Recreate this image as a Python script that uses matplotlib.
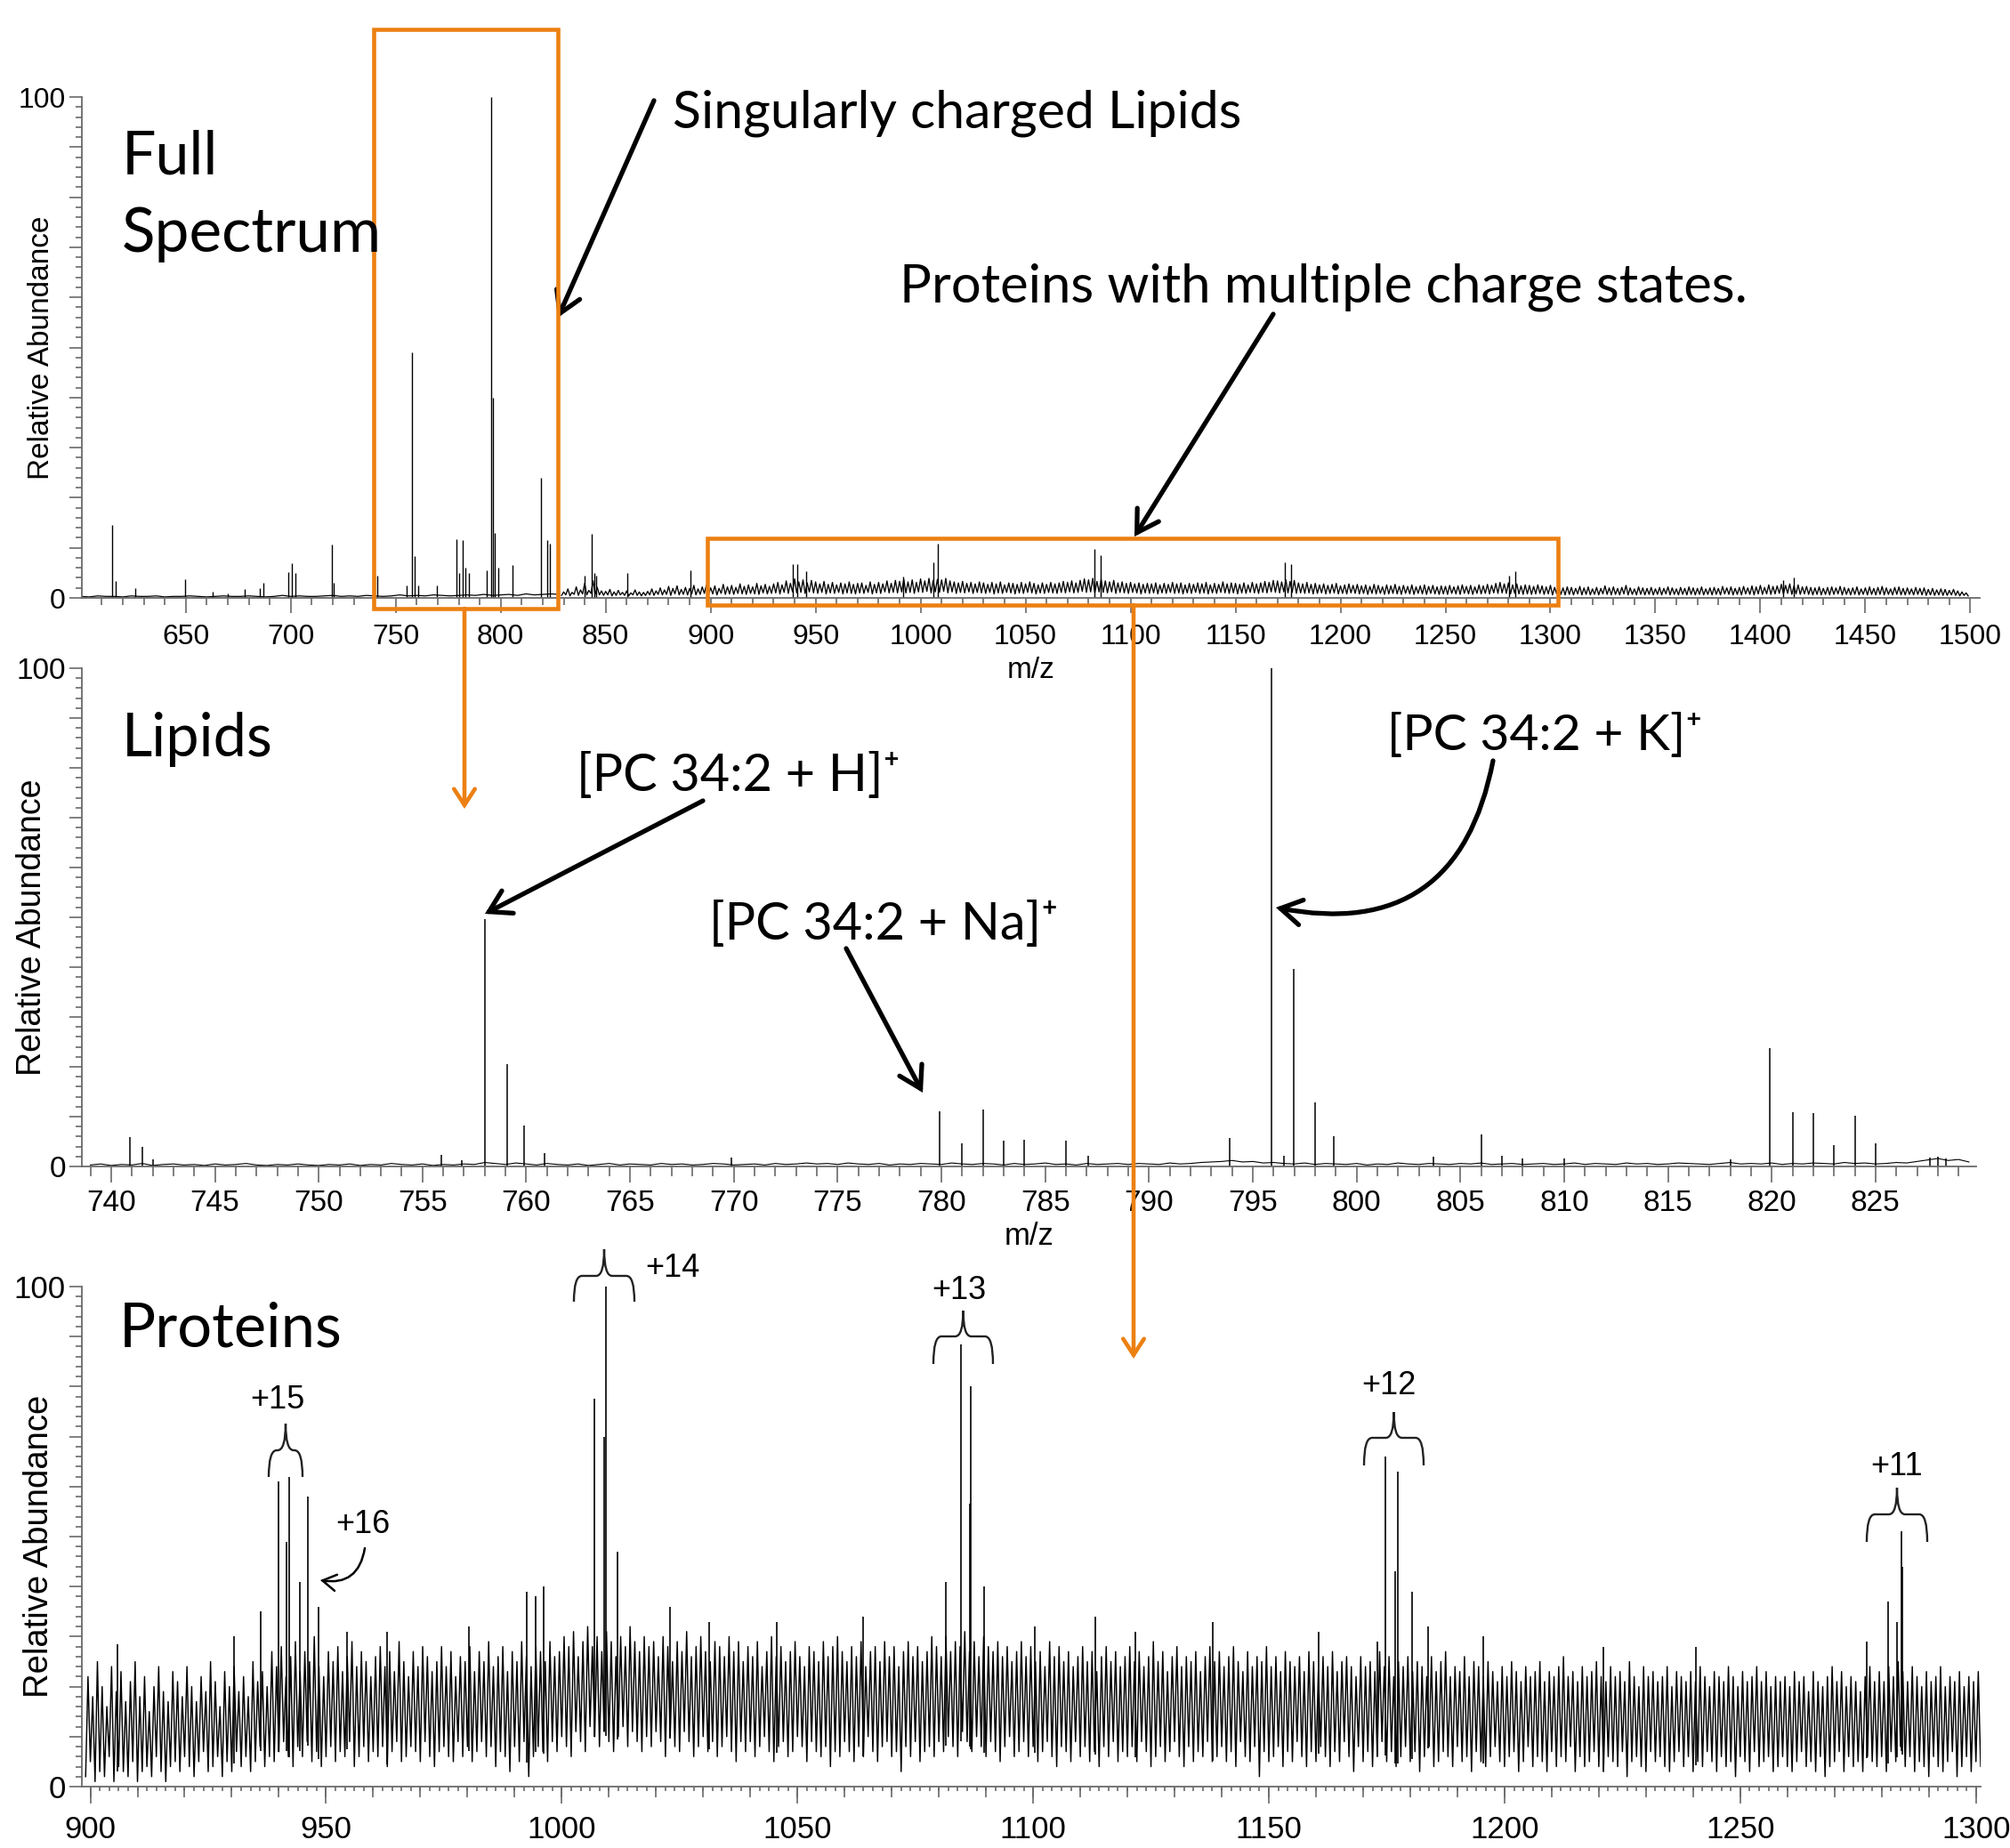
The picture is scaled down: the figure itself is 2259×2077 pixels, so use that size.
import numpy as np
import matplotlib.pyplot as plt
from matplotlib.patches import Rectangle, FancyArrowPatch, PathPatch
from matplotlib.path import Path
from matplotlib.ticker import MultipleLocator, FuncFormatter

# ---------------- data ----------------
# Full spectrum, m/z 600-1500
full_base_start, full_base_step = 600, 4
full_base = [0.3, 0.2, 0.4, 0.3, 0.3, 0.2, 0.4, 0.3, 0.3, 0.4, 0.2, 0.3, 0.3, 0.4, 0.3, 0.2, 0.3, 0.4, 0.3, 0.3,
             0.4, 0.3, 0.2, 0.3, 0.5, 0.3, 0.4, 0.3, 0.3, 0.4, 0.5, 0.3, 0.4, 0.3, 0.5, 0.4, 0.3, 0.4, 0.6, 0.4,
             0.5, 0.4, 0.6, 0.5, 0.4, 0.5, 0.6, 0.5, 0.7, 0.5, 0.6, 0.7, 0.5, 0.8, 0.6, 0.7, 0.8, 0.7]
full_noise_start, full_noise_step = 829, 1
full_noise = [
    0.5, 1.2, 0.6, 1.8, 0.4, 1.1, 0.7, 2.2, 0.5, 1.6, 0.8, 2.9, 0.6, 1.5, 0.9, 3.4, 0.7, 2.1, 0.6, 1.4,
    0.5, 1.3, 0.6, 1.7, 0.4, 1.2, 0.5, 1.5, 0.6, 1.1, 0.5, 1.4, 0.4, 1.0, 0.6, 1.6, 0.5, 1.2, 0.4, 1.1,
    0.5, 1.3, 0.6, 1.8, 0.5, 1.4, 0.7, 2.0, 0.6, 1.6, 0.7, 2.3, 0.5, 1.9, 0.8, 2.4, 0.6, 1.7, 0.7, 2.1,
    0.6, 1.9, 0.8, 2.5, 0.6, 1.8, 0.7, 2.2, 0.9, 2.6, 0.7, 2.0, 0.8, 2.4, 0.6, 1.9, 0.9, 2.7, 0.7, 2.2,
    0.8, 2.5, 0.7, 2.1, 0.9, 2.8, 0.8, 2.3, 0.7, 2.6, 0.9, 2.2, 0.8, 2.9, 0.7, 2.4, 1.0, 2.7, 0.8, 2.3,
    0.9, 2.8, 1.0, 3.1, 0.8, 2.6, 1.1, 3.4, 0.9, 2.9, 1.2, 3.8, 1.0, 3.2, 1.1, 3.6, 0.9, 3.0, 1.2, 3.5,
    1.0, 3.2, 0.9, 2.8, 1.1, 3.3, 0.8, 2.7, 1.0, 3.1, 0.9, 2.6, 1.1, 3.0, 0.8, 2.8, 1.0, 3.2, 0.9, 2.7,
    0.8, 2.9, 1.0, 3.0, 0.9, 2.5, 1.1, 3.2, 0.8, 2.7, 1.0, 3.1, 0.9, 2.8, 1.2, 3.4, 1.0, 2.9, 1.1, 3.5,
    1.0, 3.3, 1.2, 3.7, 1.0, 3.2, 1.1, 3.6, 0.9, 3.1, 1.2, 3.8, 1.1, 3.4, 1.3, 3.9, 1.0, 3.5, 1.2, 3.7,
    1.1, 3.6, 1.3, 3.9, 1.0, 3.4, 1.2, 3.2, 0.9, 3.0, 1.1, 3.3, 1.0, 2.9, 1.2, 3.1, 0.9, 2.8, 1.1, 3.2,
    1.0, 3.0, 0.9, 2.7, 1.1, 3.1, 0.8, 2.8, 1.0, 3.2, 0.9, 2.6, 1.1, 3.0, 1.0, 2.9, 0.8, 2.7, 1.0, 3.1,
    0.9, 2.8, 1.1, 3.2, 1.0, 2.9, 0.8, 2.6, 1.0, 3.0, 0.9, 2.7, 1.1, 3.1, 1.0, 2.8, 0.9, 3.0, 1.1, 3.3,
    1.0, 3.1, 1.2, 3.4, 1.0, 3.0, 1.1, 3.5, 1.3, 3.8, 1.1, 3.6, 1.2, 3.9, 1.0, 3.3, 1.2, 3.7, 1.1, 3.4,
    1.0, 3.2, 1.2, 3.5, 0.9, 3.0, 1.1, 3.2, 1.0, 2.9, 0.9, 3.1, 1.1, 2.8, 1.0, 3.0, 0.8, 2.7, 1.0, 2.9,
    0.9, 2.8, 1.0, 3.0, 0.8, 2.6, 1.0, 2.9, 0.9, 2.7, 1.1, 3.1, 0.9, 2.8, 1.0, 3.0, 0.8, 2.6, 1.0, 2.9,
    0.9, 2.7, 1.1, 3.0, 0.9, 2.8, 1.0, 3.1, 0.8, 2.6, 1.0, 2.9, 0.9, 2.7, 1.1, 3.2, 1.0, 2.8, 0.9, 3.0,
    1.0, 2.9, 0.8, 2.7, 1.0, 3.0, 0.9, 2.6, 1.1, 3.1, 1.0, 2.8, 0.9, 3.0, 1.1, 3.3, 1.0, 3.1, 1.2, 3.5,
    1.1, 3.4, 1.0, 3.2, 1.2, 3.6, 1.0, 3.3, 1.1, 3.5, 0.9, 3.0, 1.0, 2.8, 0.9, 3.1, 1.0, 2.7, 0.8, 2.9,
    0.9, 2.6, 1.0, 2.8, 0.8, 2.5, 0.9, 2.7, 1.0, 2.9, 0.8, 2.4, 0.9, 2.6, 0.8, 2.8, 1.0, 2.5, 0.9, 2.7,
    0.8, 2.4, 0.9, 2.6, 0.7, 2.3, 0.9, 2.7, 0.8, 2.5, 0.9, 2.2, 0.7, 2.6, 0.8, 2.4, 0.9, 2.7, 0.8, 2.3,
    0.7, 2.5, 0.9, 2.3, 0.8, 2.6, 0.7, 2.2, 0.9, 2.4, 0.8, 2.6, 0.7, 2.3, 0.9, 2.5, 0.8, 2.2, 0.7, 2.4,
    0.8, 2.3, 0.7, 2.5, 0.9, 2.2, 0.8, 2.4, 0.7, 2.6, 0.9, 2.3, 0.8, 2.5, 0.7, 2.2, 0.9, 2.6, 0.8, 2.4,
    0.9, 2.7, 0.8, 2.5, 1.0, 2.9, 0.9, 3.1, 1.0, 2.8, 0.9, 3.0, 0.8, 2.6, 0.9, 2.8, 0.8, 2.4, 0.7, 2.6,
    0.8, 2.5, 0.7, 2.3, 0.8, 2.6, 0.9, 2.4, 0.7, 2.2, 0.8, 2.5, 0.6, 2.1, 0.8, 2.3, 0.7, 2.0, 0.6, 2.2,
    0.7, 2.1, 0.6, 1.9, 0.8, 2.3, 0.6, 2.0, 0.7, 2.2, 0.6, 1.8, 0.7, 2.1, 0.6, 1.9, 0.8, 2.4, 0.7, 2.0,
    0.6, 2.2, 0.7, 1.9, 0.6, 2.1, 0.8, 2.5, 0.6, 2.0, 0.7, 1.8, 0.6, 2.2, 0.7, 2.0, 0.6, 1.9, 0.7, 2.1,
    0.6, 1.8, 0.7, 2.1, 0.6, 1.9, 0.8, 2.2, 0.6, 2.0, 0.7, 1.8, 0.6, 2.1, 0.7, 1.9, 0.6, 2.2, 0.7, 2.0,
    0.6, 1.9, 0.7, 2.2, 0.6, 1.8, 0.7, 2.0, 0.6, 2.1, 0.7, 1.9, 0.6, 2.3, 0.8, 2.0, 0.7, 2.2, 0.6, 1.9,
    0.7, 2.1, 0.6, 2.3, 0.8, 2.0, 0.7, 2.4, 0.6, 2.2, 0.8, 2.5, 0.7, 2.1, 0.8, 2.6, 0.7, 2.3, 0.8, 2.4,
    0.9, 2.7, 0.8, 2.5, 0.9, 2.8, 0.7, 2.4, 0.8, 2.6, 0.7, 2.2, 0.8, 2.3, 0.7, 2.1, 0.6, 2.0, 0.7, 2.2,
    0.6, 1.9, 0.7, 2.1, 0.6, 2.2, 0.7, 2.0, 0.8, 2.3, 0.6, 2.1, 0.7, 1.9, 0.6, 2.0, 0.7, 2.2, 0.6, 1.8,
    0.7, 2.0, 0.6, 2.2, 0.7, 1.9, 0.6, 2.1, 0.7, 2.3, 0.6, 2.0, 0.7, 1.8, 0.6, 2.1, 0.7, 2.2, 0.6, 1.9,
    0.6, 2.0, 0.7, 1.8, 0.6, 2.1, 0.7, 1.9, 0.6, 2.0, 0.5, 1.7, 0.6, 1.9, 0.5, 1.6, 0.6, 1.8, 0.5, 1.7,
    0.5, 1.5, 0.6, 1.7, 0.5, 1.4, 0.4, 1.2, 0.5, 1.0, 0.4]
full_peak_mz = [614.8, 616.5, 625.8, 649.6, 663.0, 670.0, 678.0, 685.4, 687.0, 699.0, 700.7, 702.2,
                719.5, 720.6, 741.0, 755.0, 757.9, 759.2, 760.5, 769.8, 779.0, 780.3, 781.9, 783.2,
                784.7, 793.5, 795.3, 796.3, 797.2, 798.7, 805.8, 819.4, 822.0, 823.5, 840.0, 843.2,
                844.7, 845.5, 860.4, 890.4, 939.2, 941.1, 945.3, 991.5, 1006.0, 1008.3, 1083.0, 1085.7,
                1173.4, 1176.3, 1280.5, 1283.2, 1410.8, 1416.0]
full_peak_int = [14.5, 3.3, 2.0, 3.8, 1.2, 0.8, 1.7, 2.0, 3.0, 5.2, 7.0, 5.0,
                 10.7, 3.0, 4.4, 2.5, 49.0, 8.3, 2.5, 2.5, 11.8, 5.0, 11.6, 6.0,
                 5.0, 5.5, 100.0, 40.0, 13.0, 6.0, 6.5, 24.0, 11.5, 10.8, 4.4, 12.8,
                 5.0, 4.5, 5.0, 5.5, 6.7, 6.7, 5.4, 4.3, 7.1, 10.8, 9.7, 8.6,
                 7.1, 6.8, 4.4, 5.4, 3.6, 4.0]

# Lipid zoom, m/z 739-830
lipid_noise_start, lipid_noise_step = 739, 0.5
lipid_noise = [
    0.3, 0.5, 0.2, 0.4, 0.3, 0.6, 0.2, 0.4, 0.5, 0.3, 0.4, 0.2, 0.5, 0.3, 0.4, 0.6, 0.3, 0.2, 0.4, 0.3,
    0.5, 0.3, 0.2, 0.4, 0.3, 0.5, 0.2, 0.4, 0.3, 0.6, 0.4, 0.3, 0.5, 0.2, 0.4, 0.3, 0.5, 0.4, 0.8, 0.6,
    0.4, 0.7, 0.5, 0.3, 0.6, 0.4, 0.3, 0.5, 0.2, 0.4, 0.6, 0.3, 0.5, 0.4, 0.3, 0.6, 0.4, 0.5, 0.3, 0.4,
    0.6, 0.5, 0.3, 0.4, 0.5, 0.3, 0.6, 0.4, 0.5, 0.7, 0.5, 0.6, 0.4, 0.7, 0.5, 0.4, 0.6, 0.3, 0.5, 0.4,
    0.6, 0.5, 0.4, 0.7, 0.5, 0.4, 0.6, 0.5, 0.3, 0.6, 0.4, 0.5, 0.7, 0.4, 0.5, 0.3, 0.6, 0.4, 0.5, 0.6,
    0.4, 0.6, 0.5, 0.4, 0.7, 0.5, 0.6, 0.8, 0.9, 1.0, 1.2, 0.9, 1.0, 0.7, 0.8, 0.6, 0.5, 0.7, 0.4, 0.6,
    0.5, 0.4, 0.6, 0.3, 0.5, 0.4, 0.7, 0.5, 0.4, 0.6, 0.5, 0.4, 0.6, 0.5, 0.7, 0.4, 0.5, 0.6, 0.4, 0.5,
    0.6, 0.4, 0.5, 0.7, 0.4, 0.6, 0.5, 0.4, 0.7, 0.5, 0.6, 0.4, 0.5, 0.7, 0.6, 0.5, 0.4, 0.6, 0.8, 0.5,
    0.6, 0.5, 0.7, 0.4, 0.6, 0.5, 0.7, 0.6, 0.5, 0.8, 0.6, 0.7, 0.5, 0.6, 0.8, 0.7, 1.0, 1.3, 1.6, 1.2,
    1.4, 0.9]
lipid_peak_mz = [740.9, 741.5, 742.0, 755.9, 756.9, 758.0, 759.06, 759.9, 760.9, 769.9,
                 779.9, 781.0, 782.0, 783.0, 784.0, 786.0, 787.05, 793.9, 795.9, 796.5,
                 796.96, 798.0, 798.9, 803.7, 806.0, 807.0, 808.0, 810.0, 818.0, 819.9,
                 821.0, 822.0, 823.0, 824.0, 825.0, 827.6, 828.0, 828.4]
lipid_peak_int = [5.9, 4.0, 1.5, 2.3, 1.2, 49.6, 20.6, 8.2, 2.7, 1.8,
                  11.1, 4.7, 11.5, 5.1, 5.4, 5.1, 2.2, 5.7, 100.0, 2.2,
                  39.6, 12.9, 6.1, 2.0, 6.5, 2.2, 1.6, 1.6, 1.5, 23.8,
                  10.9, 10.8, 4.3, 10.2, 4.7, 1.8, 2.0, 1.6]

# Protein zoom, m/z 899-1301 (noise minima / maxima per m/z)
prot_start = 899
prot_lo = [
    2, 5, 1, 3, 2, 6, 1, 4, 3, 2, 5, 1, 3, 4, 2, 6, 3, 1, 4, 5,
    3, 6, 4, 2, 5, 7, 3, 4, 6, 2, 5, 3, 7, 4, 6, 3, 5, 8, 4, 6,
    5, 7, 9, 6, 4, 8, 6, 9, 5, 7, 4, 6, 8, 5, 7, 6, 9, 4, 6, 8,
    5, 7, 6, 8, 4, 7, 9, 5, 6, 8, 7, 5, 9, 6, 4, 7, 8, 6, 5, 9,
    6, 8, 5, 7, 9, 6, 8, 4, 7, 6, 3, 8, 5, 9, 2, 6, 8, 7, 5, 9,
    7, 10, 8, 6, 11, 9, 7, 12, 10, 8, 11, 9, 7, 10, 12, 8, 11, 9, 7, 10,
    8, 11, 9, 6, 10, 8, 7, 11, 9, 6, 8, 10, 7, 9, 6, 8, 10, 7, 5, 9,
    7, 9, 6, 8, 10, 7, 5, 8, 9, 6, 7, 10, 8, 5, 9, 7, 6, 8, 4, 7,
    6, 9, 7, 5, 8, 6, 10, 7, 5, 8, 9, 6, 7, 3, 8, 6, 9, 5, 7, 8,
    6, 9, 7, 10, 8, 6, 11, 9, 7, 10, 8, 6, 9, 7, 5, 8, 10, 6, 7, 9,
    6, 8, 5, 7, 9, 6, 4, 8, 7, 5, 9, 6, 8, 5, 7, 4, 8, 6, 9, 5,
    7, 6, 8, 5, 9, 7, 4, 6, 8, 5, 7, 9, 6, 4, 8, 5, 7, 6, 9, 5,
    6, 8, 5, 7, 4, 9, 6, 5, 8, 2, 7, 5, 6, 8, 4, 7, 5, 9, 6, 4,
    7, 5, 8, 6, 4, 7, 5, 9, 6, 3, 8, 5, 7, 4, 6, 9, 5, 7, 4, 6,
    8, 5, 7, 3, 6, 8, 4, 5, 7, 6, 4, 8, 5, 6, 3, 7, 5, 4, 6, 8,
    5, 4, 6, 7, 3, 5, 8, 4, 6, 5, 3, 7, 4, 6, 5, 8, 3, 6, 4, 5,
    7, 4, 3, 6, 5, 4, 7, 2, 5, 6, 4, 3, 7, 5, 6, 4, 3, 5, 7, 4,
    6, 3, 5, 4, 7, 5, 3, 6, 4, 5, 2, 6, 5, 3, 7, 4, 5, 6, 3, 4,
    6, 4, 3, 5, 7, 4, 5, 3, 6, 2, 4, 5, 7, 3, 6, 4, 5, 3, 6, 5,
    4, 6, 3, 7, 5, 8, 4, 6, 3, 5, 4, 2, 6, 4, 3, 5, 7, 2, 4, 6,
    3, 5, 4]
prot_hi = [
    22, 18, 25, 20, 16, 24, 19, 23, 17, 21, 25, 18, 22, 15, 20, 24, 19, 17, 23, 21,
    18, 24, 20, 17, 22, 19, 25, 21, 16, 23, 20, 24, 19, 22, 18, 25, 21, 23, 20, 27,
    24, 28, 22, 26, 29, 23, 27, 25, 30, 24, 22, 27, 25, 28, 23, 26, 29, 24, 27, 25,
    22, 26, 28, 24, 27, 23, 29, 25, 22, 27, 24, 28, 26, 23, 25, 28, 24, 27, 22, 26,
    25, 28, 23, 27, 25, 29, 24, 26, 28, 23, 27, 25, 29, 26, 24, 28, 27, 25, 29, 26,
    27, 30, 28, 31, 26, 29, 32, 28, 30, 27, 31, 29, 26, 30, 28, 32, 29, 27, 30, 28,
    29, 26, 30, 28, 25, 29, 27, 31, 26, 28, 30, 27, 25, 29, 28, 26, 30, 27, 29, 25,
    28, 26, 29, 24, 27, 30, 26, 28, 25, 27, 29, 26, 24, 28, 27, 25, 29, 26, 28, 30,
    27, 25, 28, 26, 29, 24, 27, 28, 25, 29, 26, 28, 24, 27, 29, 26, 28, 25, 27, 30,
    28, 26, 30, 27, 29, 28, 31, 27, 29, 26, 30, 28, 27, 29, 26, 28, 25, 27, 29, 26,
    28, 25, 27, 24, 29, 26, 28, 25, 27, 24, 26, 28, 25, 27, 23, 26, 28, 25, 27, 24,
    26, 28, 25, 27, 24, 26, 29, 25, 27, 23, 26, 28, 24, 26, 25, 27, 23, 26, 28, 25,
    27, 24, 26, 28, 25, 23, 27, 24, 26, 25, 28, 24, 26, 23, 27, 25, 24, 26, 23, 27,
    25, 23, 26, 24, 27, 23, 25, 26, 24, 22, 26, 24, 25, 23, 27, 24, 26, 22, 25, 24,
    26, 23, 25, 24, 22, 26, 23, 25, 27, 22, 24, 23, 26, 22, 25, 24, 22, 25, 23, 21,
    24, 22, 25, 23, 21, 24, 22, 23, 25, 21, 23, 22, 24, 26, 22, 23, 21, 24, 22, 23,
    25, 22, 21, 24, 22, 23, 21, 25, 22, 20, 24, 22, 23, 21, 22, 24, 20, 23, 22, 21,
    23, 21, 24, 22, 20, 23, 22, 21, 24, 22, 20, 23, 21, 22, 24, 21, 23, 20, 22, 21,
    22, 20, 23, 21, 22, 19, 23, 21, 20, 22, 24, 21, 23, 20, 22, 21, 19, 22, 24, 21,
    23, 21, 24, 22, 25, 23, 21, 24, 22, 20, 23, 21, 22, 24, 20, 22, 21, 23, 20, 22,
    21, 23, 22]
prot_peak_mz = [905.7, 930.4, 936.2, 940.0, 941.6, 942.1, 944.4, 946.2, 948.5, 954.5, 962.9, 980.3,
                992.6, 994.5, 996.2, 1007.0, 1009.0, 1009.4, 1011.8, 1022.9, 1031.2, 1045.6,
                1064.0, 1081.4, 1084.6, 1086.5, 1086.8, 1089.6, 1100.4, 1113.2, 1121.7, 1138.2,
                1160.5, 1173.0, 1174.7, 1176.8, 1177.3, 1180.3, 1183.8, 1195.4, 1220.9, 1240.6,
                1276.9, 1281.4, 1283.3, 1284.2, 1284.4]
prot_peak_int = [28.5, 30, 35, 61, 49, 62, 41, 58, 36, 31, 31, 32,
                 39, 38, 40, 77.5, 70, 100, 47, 36, 33, 33,
                 34, 41, 88.5, 56.5, 80, 40, 32, 34, 31, 33,
                 31, 29, 66, 43, 63, 39, 32, 30, 28, 28,
                 29, 37, 33, 51, 44]

# ---------------- figure ----------------
W, H = 2259, 2077
ORANGE = '#EC8012'
AXCOL = '#6a6a6a'
TITLE_FONT = ['Lato', 'DejaVu Sans']
TICK_FONT = ['Liberation Sans', 'DejaVu Sans']

fig = plt.figure(figsize=(W / 100, H / 100), dpi=100)


def fpt(x, y):
    # pixel position (from top-left) -> figure fraction
    return (x / W, 1 - y / H)


def make_axes(left, right, top, bottom):
    ax = fig.add_axes([left / W, 1 - bottom / H, (right - left) / W, (bottom - top) / H])
    ax.patch.set_visible(False)
    return ax


def style_axes(ax, xmaj, xmin, fs, maj_len, min_len, pad):
    for s in ['top', 'right']:
        ax.spines[s].set_visible(False)
    for s in ['left', 'bottom']:
        ax.spines[s].set_color(AXCOL)
        ax.spines[s].set_linewidth(1.3)
    ax.set_ylim(0, 100)
    ax.yaxis.set_major_locator(MultipleLocator(10))
    ax.yaxis.set_minor_locator(MultipleLocator(2))
    ax.yaxis.set_major_formatter(FuncFormatter(lambda v, p: f'{v:.0f}' if round(v) in (0, 100) else ''))
    ax.xaxis.set_major_locator(MultipleLocator(xmaj))
    ax.xaxis.set_minor_locator(MultipleLocator(xmin))
    ax.tick_params(axis='both', which='both', direction='out', color=AXCOL, width=1.2)
    ax.tick_params(axis='y', which='major', length=10, labelsize=fs, pad=3)
    ax.tick_params(axis='y', which='minor', length=5)
    ax.tick_params(axis='x', which='major', length=maj_len, labelsize=fs, pad=pad)
    ax.tick_params(axis='x', which='minor', length=min_len)
    for lab in ax.get_xticklabels() + ax.get_yticklabels():
        lab.set_family(TICK_FONT)


# ---- full spectrum ----
ax1 = make_axes(92, 2225, 109, 672)
x_base = full_base_start + full_base_step * np.arange(len(full_base))
x_noise = full_noise_start + full_noise_step * np.arange(len(full_noise))
ax1.plot(x_base, full_base, color='black', lw=0.9)
ax1.plot(x_noise, full_noise, color='black', lw=0.95)
ax1.vlines(full_peak_mz, 0, full_peak_int, color='black', lw=1.0)
ax1.set_xlim(600.5, 1504.5)
style_axes(ax1, 50, 10, 23, 12, 6, 9)
ax1.set_ylabel('Relative Abundance', fontsize=24, family=TICK_FONT)
ax1.yaxis.set_label_coords(-30 / 2133, 0.5)
ax1.set_xlabel('m/z', fontsize=24, family=TICK_FONT, labelpad=5)

# ---- lipids ----
ax2 = make_axes(92, 2221, 751, 1311)
x_lip = lipid_noise_start + lipid_noise_step * np.arange(len(lipid_noise))
ax2.plot(x_lip, lipid_noise, color='black', lw=0.8)
ax2.vlines(lipid_peak_mz, 0, lipid_peak_int, color='black', lw=1.1)
ax2.set_xlim(738.59, 829.85)
style_axes(ax2, 5, 1, 24, 13, 8, 6)
ax2.set_ylabel('Relative Abundance', fontsize=27, family=TICK_FONT)
ax2.yaxis.set_label_coords(-38 / 2129, 0.48)
ax2.set_xlabel('m/z', fontsize=25, family=TICK_FONT, labelpad=3)

# ---- proteins ----
ax3 = make_axes(92, 2226, 1446, 2008)
x_lo = prot_start + np.arange(len(prot_lo))
x_hi = x_lo + 0.5
xz = np.empty(2 * len(x_lo))
yz = np.empty(2 * len(x_lo))
xz[0::2], xz[1::2] = x_lo, x_hi
yz[0::2], yz[1::2] = prot_lo, prot_hi
ax3.plot(xz, yz, color='black', lw=1.05)
base = np.interp(prot_peak_mz, x_lo, prot_lo)
ax3.vlines(prot_peak_mz, base, prot_peak_int, color='black', lw=1.2)
ax3.set_xlim(898.2, 1301.0)
style_axes(ax3, 50, 2, 25, 14, 3.5, 9)
sec = ax3.secondary_xaxis('bottom')
sec.xaxis.set_major_locator(MultipleLocator(10))
sec.tick_params(length=8.5, color=AXCOL, width=1.2, labelbottom=False)
sec.spines['bottom'].set_visible(False)
ax3.set_ylabel('Relative Abundance', fontsize=27.5, family=TICK_FONT)
ax3.yaxis.set_label_coords(-30 / 2134, 0.48)

# ---------------- annotations ----------------
def ftext(x, y, s, size, family=TITLE_FONT, **kw):
    fig.text(*fpt(x, y), s, fontsize=size, family=family, va='baseline', **kw)


ftext(137, 195, 'Full', 49)
ftext(137, 283, 'Spectrum', 50)
ftext(137, 850, 'Lipids', 48)
ftext(134, 1513, 'Proteins', 49.5)

ftext(756, 144, 'Singularly charged Lipids', 42.5)
ftext(1011, 340, 'Proteins with multiple charge states.', 43)
ftext(648, 889, '[PC 34:2 + H]⁺', 41.5)
ftext(797, 1056, '[PC 34:2 + Na]⁺', 41.5)
ftext(1559, 843, '[PC 34:2 + K]⁺', 41)

for x, y, s in [(312, 1583, '+15'), (408, 1723, '+16'), (756, 1435, '+14'),
                (1078, 1460, '+13'), (1561, 1567, '+12'), (2132, 1658, '+11')]:
    ftext(x, y, s, 26, family=TICK_FONT, ha='center')


def arrow(p0, p1, rad=0.0, lw=3.8, color='black', ms=17, hl=1.0, hw=0.6):
    a = FancyArrowPatch(fpt(*p0), fpt(*p1), transform=fig.transFigure,
                        arrowstyle=f'->,head_length={hl},head_width={hw}',
                        mutation_scale=ms, lw=lw, color=color,
                        connectionstyle=f'arc3,rad={rad}', shrinkA=0, shrinkB=0,
                        capstyle='round', joinstyle='miter')
    fig.add_artist(a)


# black arrows
arrow((735, 113), (627, 357))
arrow((1431, 353), (1275, 603))
arrow((790, 900), (545, 1027))
arrow((951, 1066), (1037, 1228))
arrow((1678, 855), (1434, 1020), rad=-0.5)
arrow((410, 1740), (360, 1776), rad=-0.5, lw=1.8, ms=11)

# orange boxes and arrows
for (x0, y0, x1, y1) in [(420, 33, 627, 684), (795, 605, 1751, 680)]:
    fig.add_artist(Rectangle(fpt(x0, y1), (x1 - x0) / W, (y1 - y0) / H, transform=fig.transFigure,
                             fill=False, ec=ORANGE, lw=3.3))
arrow((522, 684), (522, 909), lw=3.3, color=ORANGE, ms=13, hl=1.0, hw=0.65)
arrow((1274, 680), (1274, 1527), lw=3.3, color=ORANGE, ms=13, hl=1.0, hw=0.65)


# curly braces over the charge-state clusters
def brace(x0, x1, y_end, y_bar, y_tip, r=9):
    xm = (x0 + x1) / 2
    pts = [(x0, y_end), (x0, y_bar), (x0 + r, y_bar), (xm - r, y_bar), (xm, y_bar), (xm, y_tip),
           (xm, y_tip), (xm, y_bar), (xm + r, y_bar), (x1 - r, y_bar), (x1, y_bar), (x1, y_end)]
    codes = [Path.MOVETO, Path.CURVE3, Path.CURVE3, Path.LINETO, Path.CURVE3, Path.CURVE3,
             Path.MOVETO, Path.CURVE3, Path.CURVE3, Path.LINETO, Path.CURVE3, Path.CURVE3]
    path = Path([fpt(*p) for p in pts], codes)
    fig.add_artist(PathPatch(path, transform=fig.transFigure, fill=False, ec='#222222', lw=1.7))


brace(302, 340, 1660, 1630, 1600)
brace(645, 713, 1463, 1434, 1404)
brace(1049, 1116, 1533, 1502, 1473)
brace(1533, 1600, 1647, 1616, 1587)
brace(2098, 2166, 1733, 1702, 1672)

fig.savefig('out.png', dpi=100)
